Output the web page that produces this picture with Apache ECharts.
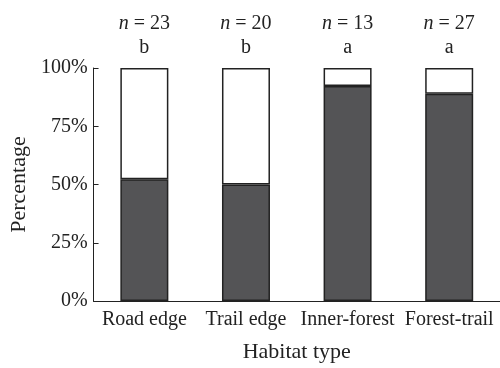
<!DOCTYPE html>
<html><head><meta charset="utf-8">
<script src="https://cdn.jsdelivr.net/npm/echarts@6/dist/echarts.min.js"></script>
<style>html,body{margin:0;padding:0;background:#fff;overflow:hidden}#c{width:500px;height:368px}</style>
</head><body><div id="c"></div>
<script>
const categories = ['Road edge', 'Trail edge', 'Inner-forest', 'Forest-trail'];
const darkValues = [52.2, 50, 92.3, 88.9];
const whiteValues = [47.8, 50, 7.7, 11.1];
const sampleSizes = [23, 20, 13, 27];
const groupLetters = ['b', 'b', 'a', 'a'];
const yTicks = [0, 25, 50, 75, 100];

const FONT = '"Liberation Serif", "DejaVu Serif", serif';
const chart = echarts.init(document.getElementById('c'), null, {renderer: 'canvas'});
chart.setOption({
  animation: false,
  grid: {left: 88, right: 0, top: 68, bottom: 62, containLabel: false},
  xAxis: {
    type: 'category', data: categories,
    name: 'Habitat type', nameLocation: 'middle', nameGap: 40,
    nameTextStyle: {fontFamily: FONT, fontSize: 22, color: '#222'},
    axisLine: {lineStyle: {color: '#222', width: 1}},
    axisTick: {inside: true, length: 5, lineStyle: {color: '#222'}},
    axisLabel: {fontFamily: FONT, fontSize: 20, color: '#222', margin: 9, interval: 0}
  },
  yAxis: {
    type: 'value', min: yTicks[0], max: yTicks[yTicks.length - 1], interval: 25,
    name: 'Percentage', nameLocation: 'middle', nameGap: 60, nameRotate: 90,
    nameTextStyle: {fontFamily: FONT, fontSize: 22, color: '#222'},
    axisLine: {show: true, lineStyle: {color: '#222', width: 1}},
    axisTick: {show: true, inside: true, length: 5, lineStyle: {color: '#222'}},
    splitLine: {show: false},
    axisLabel: {fontFamily: FONT, fontSize: 20, color: '#222', margin: 6, formatter: '{value}%'}
  },
  series: [
    {
      type: 'bar', stack: 's', data: darkValues, barWidth: 48,
      itemStyle: {color: '#545456', borderColor: '#222', borderWidth: 1.5}
    },
    {
      type: 'bar', stack: 's', data: whiteValues, barWidth: 48,
      itemStyle: {color: '#fff', borderColor: '#222', borderWidth: 1.5},
      label: {
        show: true, position: 'top', distance: 8,
        formatter: p => '{i|n} = ' + sampleSizes[p.dataIndex] + '\n' + groupLetters[p.dataIndex],
        fontFamily: FONT, fontSize: 20, color: '#222', lineHeight: 24, align: 'center',
        rich: {i: {fontFamily: FONT, fontSize: 20, fontStyle: 'italic', color: '#222'}}
      }
    }
  ]
});
</script></body></html>
